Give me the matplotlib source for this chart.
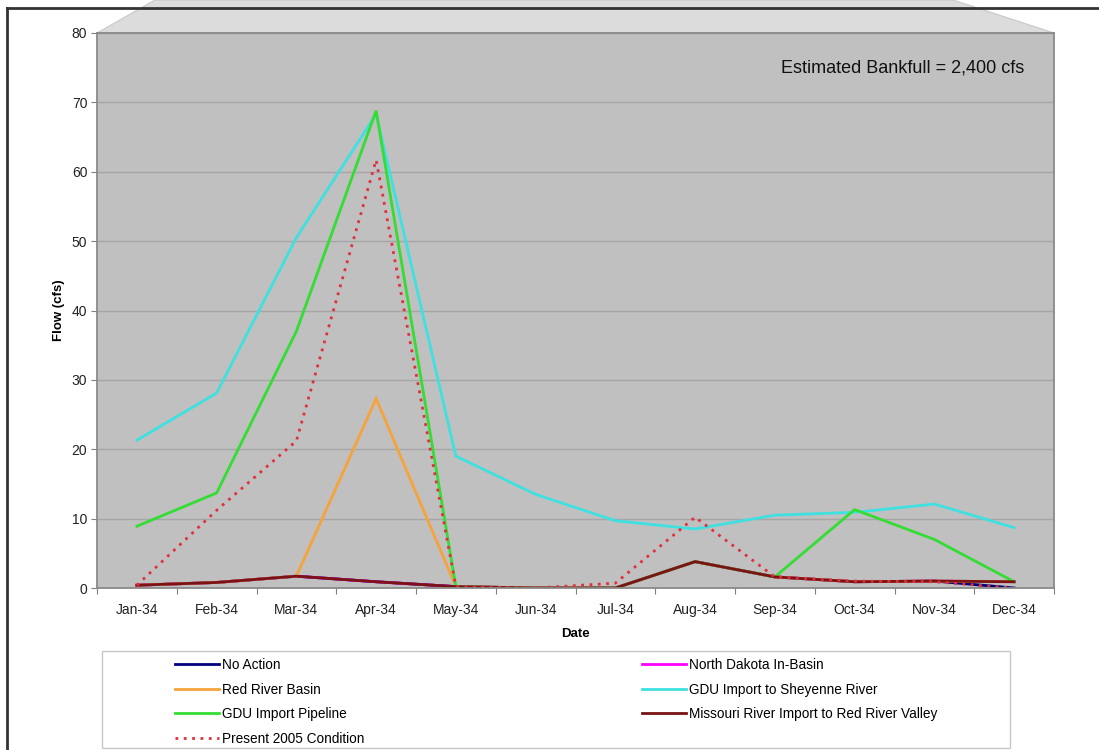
import matplotlib
matplotlib.use("Agg")
import matplotlib.pyplot as plt
from matplotlib.patches import Polygon, Rectangle
from matplotlib.lines import Line2D

plt.rcParams["font.family"] = ["Liberation Sans", "DejaVu Sans"]

months = ["Jan-34", "Feb-34", "Mar-34", "Apr-34", "May-34", "Jun-34",
          "Jul-34", "Aug-34", "Sep-34", "Oct-34", "Nov-34", "Dec-34"]

no_action = [0.4, 0.8, 1.7, 0.9, 0.2, 0.0, 0.0, 3.8, 1.6, 0.9, 1.0, 0.0]
nd_in_basin = [0.4, 0.8, 1.7, 0.9, 0.2, 0.0, 0.0, 3.8, 1.6, 0.9, 1.0, 0.9]
red_river_basin = [0.4, 0.8, 1.7, 27.3, 0.2, 0.0, 0.0, 3.8, 1.6, 0.9, 1.0, 0.9]
gdu_sheyenne = [21.3, 28.1, 50.5, 68.3, 19.0, 13.5, 9.7, 8.5, 10.5, 10.9, 12.1, 8.7]
gdu_pipeline = [8.9, 13.7, 37.0, 68.8, 0.2, 0.0, 0.0, 3.8, 1.6, 11.3, 7.0, 0.9]
missouri_import = [0.4, 0.8, 1.7, 0.9, 0.2, 0.0, 0.0, 3.8, 1.6, 0.9, 1.0, 0.9]
present_2005 = [0.4, 11.2, 21.2, 61.7, 0.2, 0.0, 0.7, 10.2, 1.6, 1.0, 0.9, 0.0]

W, H = 1099, 750
fig = plt.figure(figsize=(W / 100, H / 100), dpi=100)


def fx(px):
    return px / W


def fy(py):
    return 1 - py / H


# outer frame + perspective wall
fig.add_artist(Polygon([(fx(97), fy(33)), (fx(155), fy(0)), (fx(953), fy(0)), (fx(1054), fy(33))],
                       closed=True, facecolor="#dcdcdc", edgecolor="#c8c8c8", lw=0.8,
                       transform=fig.transFigure, zorder=0))
fig.add_artist(Line2D([fx(7), fx(1099)], [fy(8), fy(8)], color="#333333", lw=2,
                      transform=fig.transFigure, zorder=1))
fig.add_artist(Line2D([fx(7), fx(7)], [fy(8), fy(750)], color="#333333", lw=2,
                      transform=fig.transFigure, zorder=1))

ax = fig.add_axes([fx(97), fy(588), fx(1054) - fx(97), (588 - 33) / H])
ax.set_facecolor("#c0c0c0")

x = list(range(len(months)))
series = [
    ("No Action", no_action, "#000080", "-"),
    ("North Dakota In-Basin", nd_in_basin, "#ff00ff", "-"),
    ("Red River Basin", red_river_basin, "#f5a33a", "-"),
    ("GDU Import to Sheyenne River", gdu_sheyenne, "#3fe0e0", "-"),
    ("GDU Import Pipeline", gdu_pipeline, "#33dd33", "-"),
    ("Missouri River Import to Red River Valley", missouri_import, "#7a1414", "-"),
    ("Present 2005 Condition", present_2005, "#e0303c", (0, (1, 2.0))),
]
handles = {}
for name, vals, col, ls in series:
    (h,) = ax.plot(x, vals, color=col, lw=2.0, linestyle=ls, label=name,
                   solid_joinstyle="miter")
    handles[name] = h

ax.set_xlim(-0.5, 11.5)
ax.set_ylim(0, 80)
ax.set_yticks(range(0, 81, 10))
ax.yaxis.grid(True, color="#a6a6a6", lw=1)
ax.set_axisbelow(True)

ax.set_xticks([i - 0.5 for i in range(13)])
ax.set_xticklabels([])
ax.set_xticks(x, minor=True)
ax.set_xticklabels(months, minor=True)
ax.tick_params(axis="x", which="major", length=4, color="#808080")
ax.tick_params(axis="x", which="minor", length=0, pad=11, labelsize=10, labelcolor="#222222")
ax.tick_params(axis="y", length=4, color="#808080", labelsize=10, labelcolor="#222222", pad=3)

for sp in ax.spines.values():
    sp.set_color("#8a8a8a")
    sp.set_linewidth(1.3)

ax.set_xlabel("Date", fontsize=9.5, fontweight="bold", labelpad=8)
ax.set_ylabel("Flow (cfs)", fontsize=9.5, fontweight="bold", labelpad=5)

ax.text(0.969, 0.937, "Estimated Bankfull = 2,400 cfs", transform=ax.transAxes,
        ha="right", va="center", fontsize=13, color="#111111")

# legend box
fig.add_artist(Rectangle((fx(102), fy(748)), fx(1010) - fx(102), (748 - 651) / H,
                         facecolor="white", edgecolor="#c8c8c8", lw=1,
                         transform=fig.transFigure, zorder=1))
order = ["No Action", "Red River Basin", "GDU Import Pipeline", "Present 2005 Condition",
         "North Dakota In-Basin", "GDU Import to Sheyenne River",
         "Missouri River Import to Red River Valley"]
leg = fig.legend([handles[n] for n in order], order, ncol=2, loc="upper left",
                 bbox_to_anchor=(fx(175), fy(658)), frameon=False, borderpad=0,
                 borderaxespad=0, fontsize=9.8, handlelength=3.2, handletextpad=0.25,
                 labelspacing=0.78, columnspacing=20.4)
leg.set_zorder(2)

fig.savefig("out.png", dpi=100)
